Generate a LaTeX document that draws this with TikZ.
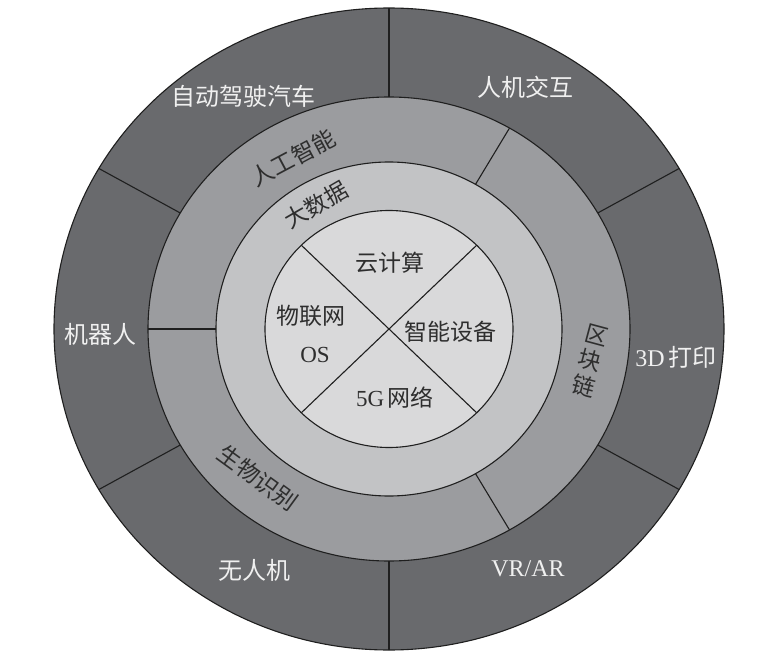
\documentclass[tikz,border=0pt]{standalone}
\usepackage{fontspec}
\setmainfont{Liberation Serif}
\newfontfamily\cjk{Noto Sans CJK SC}
\newcommand\zh[1]{{\cjk #1}}
\definecolor{outerc}{HTML}{696A6D}
\definecolor{midc}{HTML}{9B9C9F}
\definecolor{ringc}{HTML}{C2C3C5}
\definecolor{innerc}{HTML}{D9D9DA}
\definecolor{darktext}{HTML}{2E2E2E}
\definecolor{lighttext}{HTML}{F0F0F0}
\begin{document}
\begin{tikzpicture}[x=1pt,y=-1pt,
  ringline/.style={draw=black!88, line width=1.1pt},
  sepline/.style={draw=black!88, line width=1.1pt},
  outlbl/.style={text=lighttext, font=\fontsize{24}{28}\selectfont, inner sep=0pt},
  ringlbl/.style={text=darktext, font=\fontsize{23}{26}\selectfont, inner sep=0pt},
  inlbl/.style={text=darktext, font=\fontsize{23}{27}\selectfont, inner sep=0pt, align=center}]
\useasboundingbox (0,0) rectangle (764,661);
\fill[white] (0,0) rectangle (764,661);
\coordinate (c) at (389,329);
% rings
\filldraw[fill=outerc, ringline] (c) ellipse [x radius=335pt, y radius=321pt];
\filldraw[fill=midc, ringline] (c) ellipse [x radius=241pt, y radius=232pt];
\filldraw[fill=ringc, ringline] (c) ellipse [x radius=173pt, y radius=167pt];
\filldraw[fill=innerc, ringline] (c) ellipse [x radius=124pt, y radius=118.5pt];
% outer ring dividers
\foreach \a in {90,30,-30,-90,-150,150}
  \draw[sepline] ({389+241*cos(\a)},{329-232*sin(\a)}) -- ({389+335*cos(\a)},{329-321*sin(\a)});
% middle ring dividers
\foreach \a in {180,60,-60}
  \draw[sepline] ({389+173*cos(\a)},{329-167*sin(\a)}) -- ({389+241*cos(\a)},{329-232*sin(\a)});
% inner cross
\foreach \a in {45,135}
  \draw[sepline] ({389+124*cos(\a)},{329-118.5*sin(\a)}) -- ({389-124*cos(\a)},{329+118.5*sin(\a)});
% outer labels
\node[outlbl] (l1) at (243,96) {\zh{自动驾驶汽车}};
\node[outlbl] (l2) at (525,87) {\zh{人机交互}};
\node[outlbl] (l3) at (100,334) {\zh{机器人}};
\node[outlbl] (l4) at (676,357) {3D\,\zh{打印}};
\node[outlbl] (l5) at (254,570) {\zh{无人机}};
\node[outlbl] (l6) at (528,569) {VR/AR};
% ring labels
\node[ringlbl, rotate=28] (r1) at (293,158) {\zh{人工智能}};
\node[ringlbl, rotate=30] (r2) at (316,205) {\zh{大数据}};
\node[ringlbl, rotate=-15, align=center] (r3) at (590,361) {\zh{区}\\\zh{块}\\\zh{链}};
\node[ringlbl, rotate=-36] (r4) at (258,478) {\zh{生物识别}};
% inner labels
\node[inlbl] (i1) at (390,263) {\zh{云计算}};
\node[inlbl] (i2) at (311,316) {\zh{物联网}};
\node[inlbl] (i3) at (315,355) {OS};
\node[inlbl] (i4) at (450,332) {\zh{智能设备}};
\node[inlbl] (i5) at (395,398) {5G\,\zh{网络}};
\end{tikzpicture}
\end{document}
